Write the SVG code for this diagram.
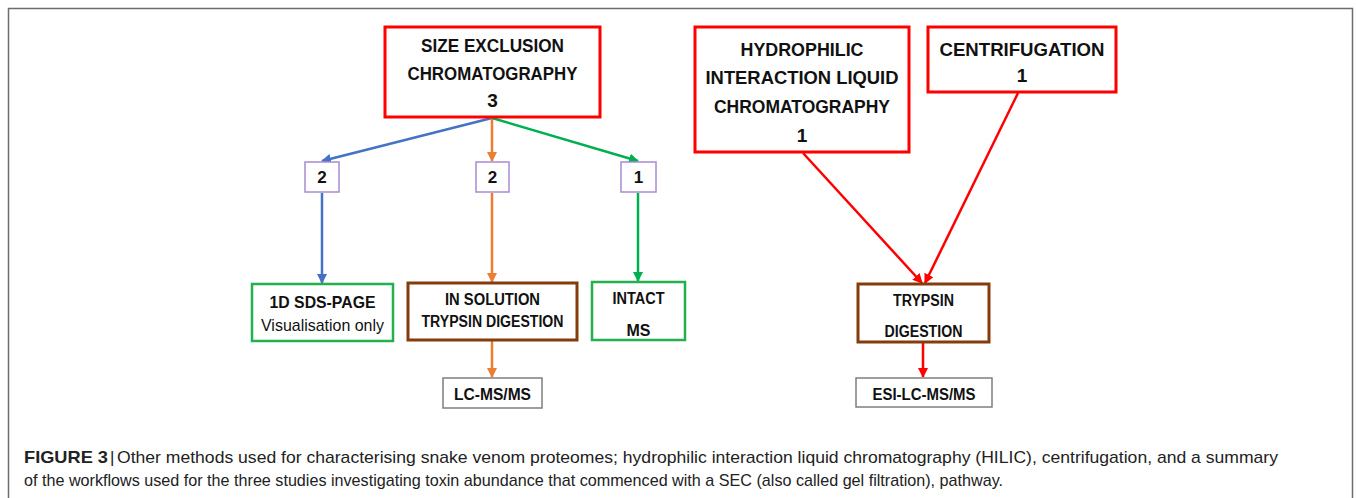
<svg xmlns="http://www.w3.org/2000/svg" width="1356" height="498" viewBox="0 0 1356 498">
<defs>
<style>
.t{font-family:"Liberation Sans",Arial,sans-serif;font-weight:bold;fill:#111;text-anchor:middle}
.n{font-family:"Liberation Sans",Arial,sans-serif;fill:#111;text-anchor:middle}
.cap{font-family:"Liberation Sans",Arial,sans-serif;fill:#222;font-size:17px}
.box{fill:#fff}
.red{stroke:#ff0000;stroke-width:3}
.grn{stroke:#22b14c;stroke-width:2.5}
.brn{stroke:#843c0c;stroke-width:3}
.pur{stroke:#a98bd3;stroke-width:1.5}
.gry{stroke:#7f7f7f;stroke-width:1.5}
.c{fill:none;stroke-width:2.5}
</style>
<marker id="mb" viewBox="0 0 10 10" refX="9" refY="5" markerWidth="10" markerHeight="10" markerUnits="userSpaceOnUse" orient="auto"><path d="M0,0 L10,5 L0,10 z" fill="#4472c4"/></marker>
<marker id="mo" viewBox="0 0 10 10" refX="9" refY="5" markerWidth="10" markerHeight="10" markerUnits="userSpaceOnUse" orient="auto"><path d="M0,0 L10,5 L0,10 z" fill="#ed7d31"/></marker>
<marker id="mg" viewBox="0 0 10 10" refX="9" refY="5" markerWidth="10" markerHeight="10" markerUnits="userSpaceOnUse" orient="auto"><path d="M0,0 L10,5 L0,10 z" fill="#00b050"/></marker>
<marker id="mr" viewBox="0 0 10 10" refX="9" refY="5" markerWidth="10" markerHeight="10" markerUnits="userSpaceOnUse" orient="auto"><path d="M0,0 L10,5 L0,10 z" fill="#ff0000"/></marker>
</defs>
<rect width="1356" height="498" fill="#fff"/>
<path d="M8.5,510 V8.5 H1352.5 V510" fill="none" stroke="#6d6d6d" stroke-width="1.5"/>

<g id="connectors">
<line class="c" x1="492" y1="118" x2="322" y2="161" stroke="#4472c4" marker-end="url(#mb)"/>
<line class="c" x1="492" y1="118" x2="492" y2="161" stroke="#ed7d31" marker-end="url(#mo)"/>
<line class="c" x1="492" y1="118" x2="638" y2="161" stroke="#00b050" marker-end="url(#mg)"/>
<line class="c" x1="322" y1="193" x2="322" y2="283" stroke="#4472c4" marker-end="url(#mb)"/>
<line class="c" x1="492" y1="193" x2="492" y2="282" stroke="#ed7d31" marker-end="url(#mo)"/>
<line class="c" x1="638" y1="193" x2="638" y2="281" stroke="#00b050" marker-end="url(#mg)"/>
<line class="c" x1="492" y1="341" x2="492" y2="377" stroke="#ed7d31" marker-end="url(#mo)"/>
<line class="c" x1="803" y1="153" x2="922" y2="283" stroke="#ff0000" marker-end="url(#mr)"/>
<line class="c" x1="1018" y1="93" x2="925" y2="283" stroke="#ff0000" marker-end="url(#mr)"/>
<line class="c" x1="923" y1="343" x2="923" y2="377" stroke="#ff0000" marker-end="url(#mr)"/>
</g>

<g id="sec">
<rect class="box red" x="385" y="27" width="215" height="90"/>
<text class="t" x="492.5" y="52" font-size="19" textLength="143" lengthAdjust="spacingAndGlyphs">SIZE EXCLUSION</text>
<text class="t" x="492.5" y="80" font-size="19" textLength="170" lengthAdjust="spacingAndGlyphs">CHROMATOGRAPHY</text>
<text class="t" x="492.5" y="107" font-size="19">3</text>
</g>

<g id="hilic">
<rect class="box red" x="695" y="27" width="214" height="125"/>
<text class="t" x="802" y="56" font-size="19" textLength="123" lengthAdjust="spacingAndGlyphs">HYDROPHILIC</text>
<text class="t" x="802" y="84" font-size="19" textLength="193" lengthAdjust="spacingAndGlyphs">INTERACTION LIQUID</text>
<text class="t" x="802" y="113" font-size="19" textLength="176" lengthAdjust="spacingAndGlyphs">CHROMATOGRAPHY</text>
<text class="t" x="802" y="142" font-size="19">1</text>
</g>

<g id="centrifugation">
<rect class="box red" x="928" y="27" width="188" height="65"/>
<text class="t" x="1022" y="56" font-size="19" textLength="165" lengthAdjust="spacingAndGlyphs">CENTRIFUGATION</text>
<text class="t" x="1022" y="82" font-size="19">1</text>
</g>

<g id="n2a">
<rect class="box pur" x="305" y="162" width="34" height="30"/>
<text class="t" x="322" y="183" font-size="17">2</text>
</g>
<g id="n2b">
<rect class="box pur" x="476" y="162" width="33" height="30"/>
<text class="t" x="492.5" y="183" font-size="17">2</text>
</g>
<g id="n1">
<rect class="box pur" x="621" y="162" width="35" height="30"/>
<text class="t" x="638.5" y="183" font-size="17">1</text>
</g>

<g id="sds">
<rect class="box grn" x="252" y="284" width="141" height="57"/>
<text class="t" x="322.5" y="308" font-size="17" textLength="106" lengthAdjust="spacingAndGlyphs">1D SDS-PAGE</text>
<text class="n" x="322.5" y="331" font-size="17" textLength="123" lengthAdjust="spacingAndGlyphs">Visualisation only</text>
</g>

<g id="insol">
<rect class="box brn" x="408" y="283" width="169" height="57"/>
<text class="t" x="492.5" y="305" font-size="16" textLength="95" lengthAdjust="spacingAndGlyphs">IN SOLUTION</text>
<text class="t" x="492.5" y="327" font-size="16" textLength="142" lengthAdjust="spacingAndGlyphs">TRYPSIN DIGESTION</text>
</g>

<g id="intact">
<rect class="box grn" x="592" y="282" width="93" height="58"/>
<text class="t" x="638.5" y="304" font-size="16" textLength="52" lengthAdjust="spacingAndGlyphs">INTACT</text>
<text class="t" x="638.5" y="336" font-size="16">MS</text>
</g>

<g id="lcms">
<rect class="box gry" x="443" y="378" width="99" height="30"/>
<text class="t" x="492.5" y="400" font-size="17" textLength="77" lengthAdjust="spacingAndGlyphs">LC-MS/MS</text>
</g>

<g id="trypsin">
<rect class="box brn" x="858" y="284" width="131" height="58"/>
<text class="t" x="923.5" y="306" font-size="16" textLength="61" lengthAdjust="spacingAndGlyphs">TRYPSIN</text>
<text class="t" x="923.5" y="337" font-size="16" textLength="78" lengthAdjust="spacingAndGlyphs">DIGESTION</text>
</g>

<g id="esi">
<rect class="box gry" x="856" y="378" width="136" height="29"/>
<text class="t" x="924" y="400" font-size="17" textLength="103" lengthAdjust="spacingAndGlyphs">ESI-LC-MS/MS</text>
</g>

<g id="caption">
<text class="cap" x="24" y="463" font-weight="bold" textLength="84" lengthAdjust="spacingAndGlyphs">FIGURE 3</text>
<text class="cap" x="110" y="463">|</text>
<text class="cap" x="117" y="463" textLength="1161" lengthAdjust="spacingAndGlyphs">Other methods used for characterising snake venom proteomes; hydrophilic interaction liquid chromatography (HILIC), centrifugation, and a summary</text>
<text class="cap" x="24" y="486" textLength="979" lengthAdjust="spacingAndGlyphs">of the workflows used for the three studies investigating toxin abundance that commenced with a SEC (also called gel filtration), pathway.</text>
</g>
</svg>
